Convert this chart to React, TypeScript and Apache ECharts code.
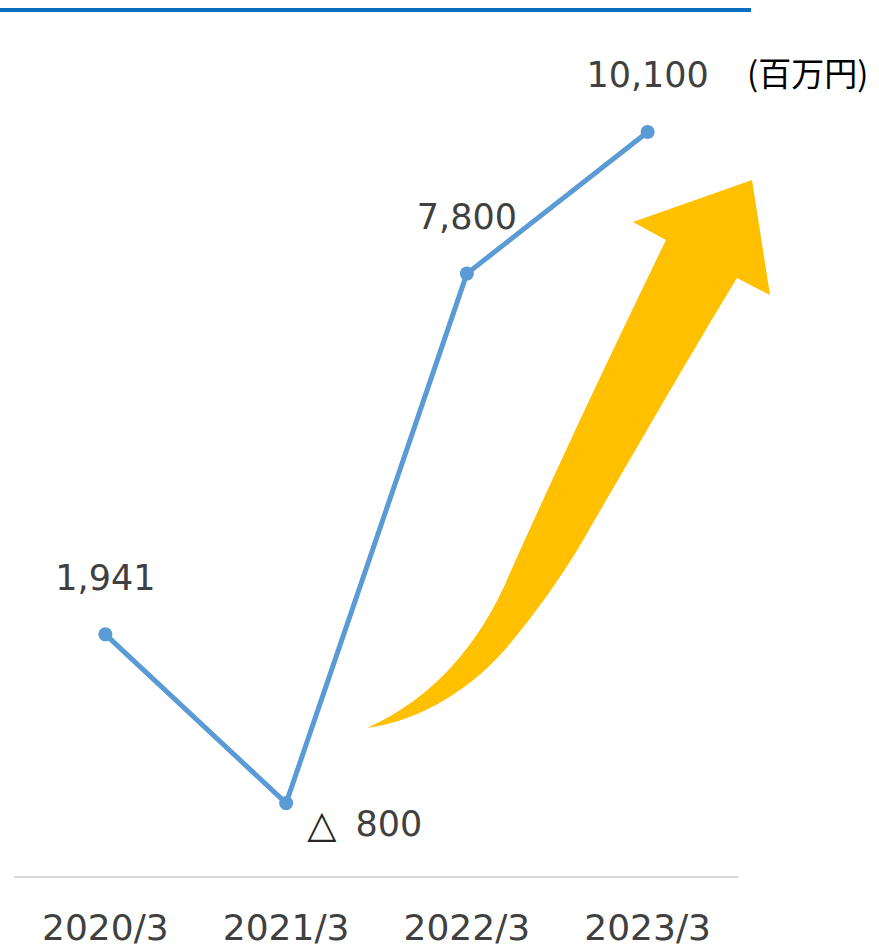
import React, { useEffect, useRef } from "react";
import * as echarts from "echarts";

const categories = ["2020/3", "2021/3", "2022/3", "2023/3"];
const values = [1941, -800, 7800, 10100];
const unitLabel = "(百万円)";

// decorative arrow outline (pixel path)
const arrowD = [
  "M367,728",
  "C432,699 480,645 510,573",
  "C556,470 610,355 666,240",
  "L633,222",
  "L752,180",
  "L770,295",
  "L737,278",
  "C690,355 630,460 590,528",
  "C571,563 539,609 513,640",
  "C476,686 424,720 367,728",
  "Z",
].join(" ");

echarts.graphic.registerShape("yarrow", echarts.graphic.extendPath(arrowD, {}) as any);

const FONT = "DejaVu Sans";

export default function App() {
  const ref = useRef<HTMLDivElement>(null);
  useEffect(() => {
    if (!ref.current) return;
    const chart = echarts.init(ref.current, null, { renderer: "svg" });
    const fmt = (v: number) =>
      v < 0 ? "{tri|△} " + Math.abs(v).toLocaleString("en-US") : v.toLocaleString("en-US");
    chart.setOption({
      animation: false,
      backgroundColor: "#ffffff",
      grid: { left: 15, right: 141, top: 15, bottom: 70, containLabel: false },
      xAxis: {
        type: "category",
        data: categories,
        boundaryGap: true,
        axisLine: { show: true, onZero: false, lineStyle: { color: "#d9d9d9", width: 2 } },
        axisTick: { show: false },
        axisLabel: {
          color: "#404040",
          fontFamily: FONT,
          fontSize: 36,
          margin: 32,
        },
        splitLine: { show: false },
      },
      yAxis: {
        type: "value",
        min: -2000,
        max: 12000,
        show: false,
        splitLine: { show: false },
      },
      series: [
        {
          type: "line",
          data: values.map((v) =>
            v < 0
              ? {
                  value: v,
                  label: {
                    position: [28, 28],
                    align: "left",
                    verticalAlign: "middle",
                  },
                }
              : v
          ),
          symbol: "circle",
          symbolSize: 14,
          lineStyle: { color: "#5b9bd5", width: 5 },
          itemStyle: { color: "#5b9bd5" },
          label: {
            show: true,
            position: "top",
            distance: 32,
            color: "#404040",
            fontFamily: FONT,
            fontSize: 35,
            formatter: (p: any) => fmt(p.value),
            rich: {
              tri: {
                fontFamily: FONT,
                fontSize: 38,
                color: "#262626",
                padding: [0, 8, 0, 0],
              },
            },
          },
        },
      ],
      graphic: [
        {
          type: "rect",
          shape: { x: 0, y: 8, width: 751, height: 4 },
          style: { fill: "#0b6fc1" },
          silent: true,
        },
        {
          type: "yarrow",
          x: 0,
          y: 0,
          style: { fill: "#ffc000" },
          silent: true,
        },
        {
          type: "text",
          x: 747,
          y: 72,
          style: {
            text: unitLabel,
            fill: "#000000",
            font: '33px "Noto Sans CJK JP"',
            textAlign: "left",
            textVerticalAlign: "middle",
          },
          silent: true,
        },
      ],
    });
    return () => chart.dispose();
  }, []);
  return (
    <div
      ref={ref}
      style={{ position: "absolute", left: 0, top: 0, width: 879, height: 947 }}
    />
  );
}
